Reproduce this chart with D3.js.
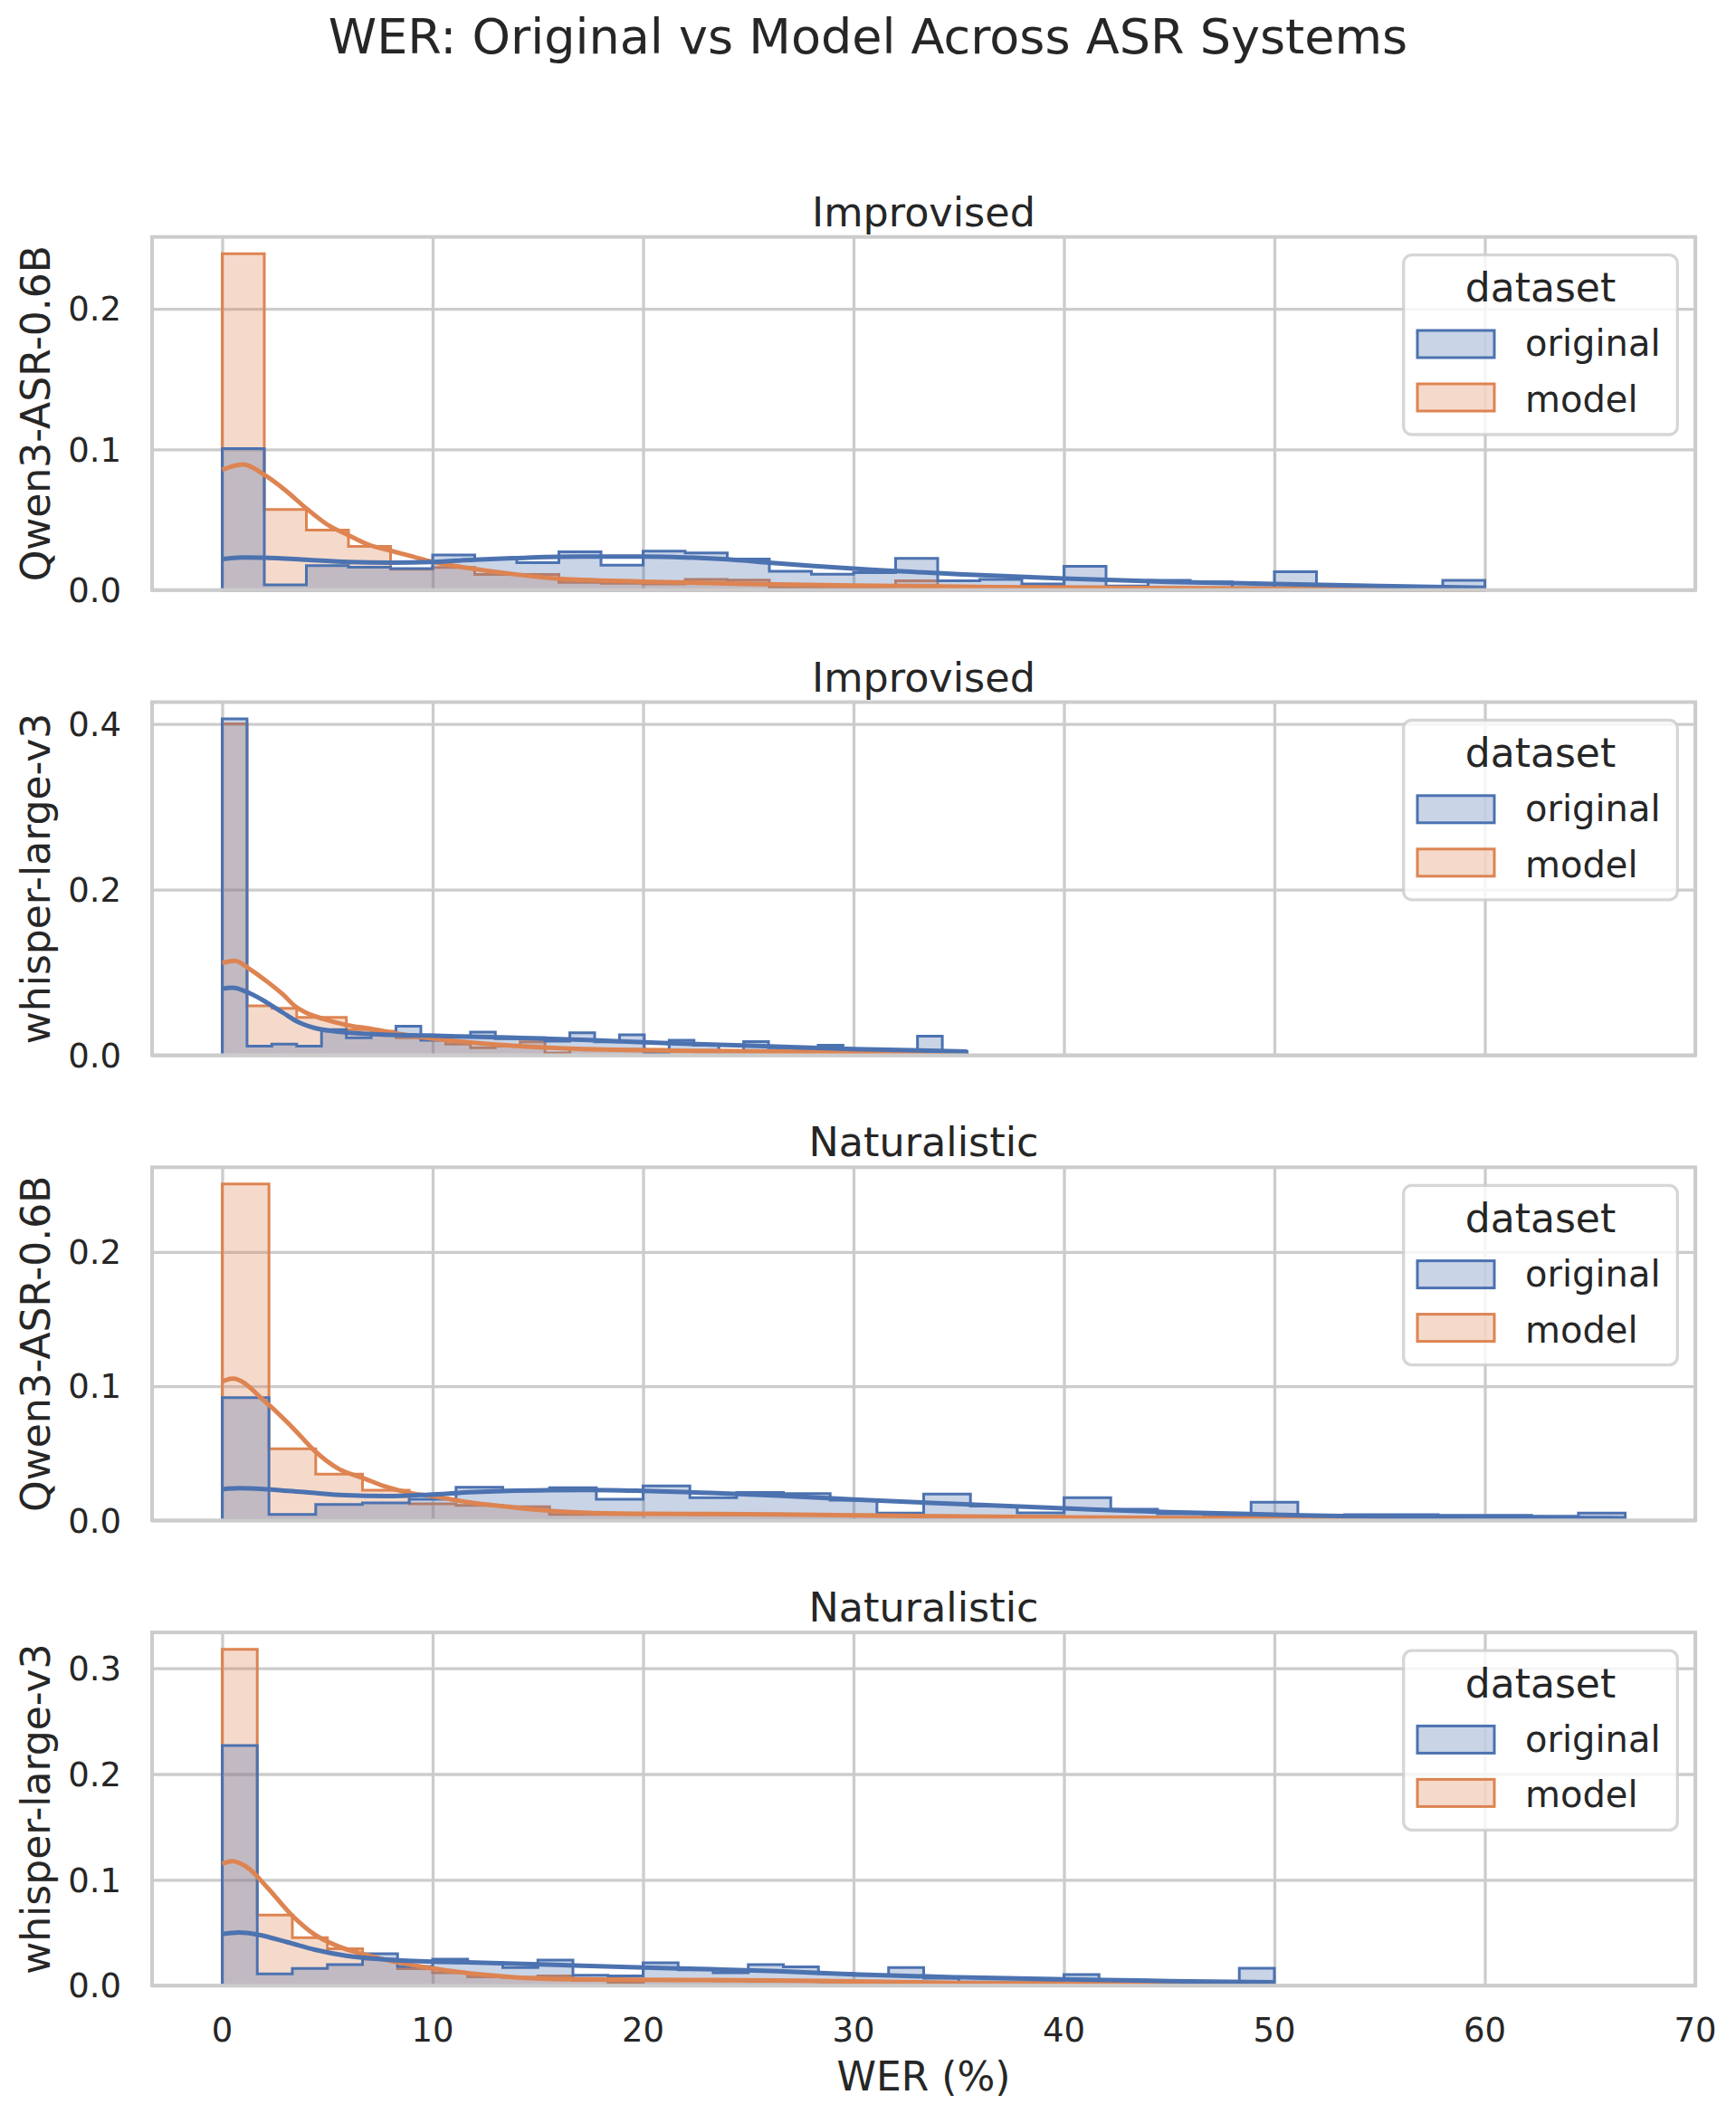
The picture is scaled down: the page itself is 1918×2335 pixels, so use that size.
<!DOCTYPE html>
<html><head><meta charset="utf-8">
<script src="https://cdn.jsdelivr.net/npm/d3@7"></script>
<style>
body{margin:0;background:#fff}
text{font-family:"DejaVu Sans",sans-serif;fill:#262626}
</style>
</head><body>
<svg id="c" width="1918" height="2335"></svg>
<script>
// ---------- DATA ----------
const suptitle = "WER: Original vs Model Across ASR Systems";
const panelTitles = ["Improvised", "Improvised", "Naturalistic", "Naturalistic"];
const panelModels = ["Qwen3-ASR-0.6B", "whisper-large-v3", "Qwen3-ASR-0.6B", "whisper-large-v3"];
const seriesNames = ["original", "model"];
const xLabel = "WER (%)";
const xTicks = [0, 10, 20, 30, 40, 50, 60, 70];
const yTicks1 = [0, 0.1, 0.2];
const yTicks2 = [0, 0.2, 0.4];
const yTicks3 = [0, 0.1, 0.2];
const yTicks4 = [0, 0.1, 0.2, 0.3];
// upper edge of the 30 equal-width bins per panel (lower edge is 0)
const binMax = [60, 35.4, 66.67, 50];

// density per bin (30 bins)
const origQwenImpro = [0.1006,0.0037,0.0173,0.0162,0.0152,0.0249,0.0221,0.0195,0.0271,0.0177,0.0277,0.0264,0.0221,0.0134,0.0113,0.0123,0.0225,0.0065,0.0076,0.0043,0.0169,0.0028,0.0069,0.0058,0.0017,0.013,0.0017,0.0017,0.001,0.0069];
const modelQwenImpro = [0.2392,0.0573,0.0426,0.031,0.0148,0.016,0.011,0.011,0.0054,0.0048,0.0043,0.0076,0.007,0.002,0.0017,0.0017,0.0065,0.0025,0.002,0.003,0.0022,0.002,0.0015,0.0015,0.0012,0.001,0.0008,0.0008,0.0006,0.0006];
const origWhisperImpro = [0.406,0.011,0.0135,0.011,0.031,0.021,0.026,0.035,0.018,0.022,0.028,0.020,0.021,0.017,0.027,0.016,0.0245,0.0026,0.018,0.012,0.004,0.0164,0.009,0.008,0.012,0.007,0.006,0.006,0.023,0.0045];
const modelWhisperImpro = [0.400,0.0595,0.0566,0.0456,0.0456,0.031,0.029,0.021,0.019,0.0135,0.009,0.011,0.016,0.0026,0.008,0.007,0.007,0.007,0.0048,0.0037,0.0048,0.004,0.003,0.003,0.0025,0.0025,0.002,0.002,0.0015,0.0015];
const origQwenNat = [0.0915,0.0045,0.0119,0.013,0.0157,0.0247,0.0225,0.0243,0.0157,0.0256,0.0169,0.0207,0.020,0.015,0.0054,0.0196,0.0106,0.0056,0.0169,0.0083,0.0049,0.0031,0.0135,0.0022,0.0043,0.0043,0.0038,0.0038,0.0031,0.0054];
const modelQwenNat = [0.2506,0.0533,0.0344,0.0225,0.0124,0.0112,0.0101,0.0045,0.0045,0.005,0.0045,0.0045,0.004,0.004,0.0035,0.003,0.003,0.003,0.0025,0.0025,0.002,0.002,0.002,0.0015,0.001,0.001,0.0005,0.0005,0.0005,0.0005];
const origWhisperNat = [0.227,0.0111,0.0162,0.0197,0.030,0.018,0.025,0.022,0.017,0.024,0.0097,0.009,0.0214,0.0148,0.012,0.0197,0.0177,0.0114,0.0097,0.0171,0.007,0.0035,0.0035,0.0045,0.0103,0.0034,0.0026,0.002,0.002,0.0163];
const modelWhisperNat = [0.318,0.0667,0.0453,0.0348,0.025,0.016,0.012,0.0083,0.0077,0.009,0.0048,0.0026,0.0054,0.005,0.0045,0.004,0.004,0.0035,0.003,0.003,0.003,0.0025,0.0025,0.002,0.002,0.002,0.0015,0.0015,0.001,0.001];

// KDE curves: [WER, density]
const kdeOrigQwenImpro = [[0,0.022],[1,0.0232],[2,0.023],[4,0.0216],[6,0.020],[8,0.0195],[10,0.020],[12,0.0216],[14,0.0227],[16,0.0236],[18,0.0238],[20,0.0238],[22,0.0232],[24,0.0218],[26,0.0195],[28,0.0172],[30,0.0152],[35,0.0113],[40,0.0082],[45,0.0058],[50,0.0043],[55,0.0028],[60,0.0015]];
const kdeModelQwenImpro = [[0,0.0855],[1,0.0894],[2,0.082],[3,0.071],[4,0.058],[5,0.0465],[6,0.039],[7,0.032],[8,0.028],[9,0.024],[10,0.020],[12,0.015],[14,0.011],[16,0.008],[18,0.0068],[20,0.006],[25,0.0043],[30,0.0032],[35,0.0024],[40,0.0017],[50,0.001],[60,0.0004]];
const kdeOrigWhisperImpro = [[0,0.0803],[0.5,0.0814],[1.3,0.0748],[2.1,0.0639],[2.9,0.0511],[3.6,0.0401],[4.4,0.0328],[5.2,0.0292],[5.9,0.0274],[7.1,0.0255],[9.8,0.0237],[13.6,0.0212],[17.4,0.0182],[21.2,0.0146],[25.1,0.0115],[30,0.0075],[35.4,0.0044]];
const kdeModelWhisperImpro = [[0,0.1113],[0.6,0.1139],[1.3,0.104],[2.1,0.0895],[2.9,0.073],[3.5,0.0584],[4,0.051],[4.8,0.0438],[5.9,0.0365],[7.1,0.0318],[8.2,0.0266],[9.8,0.0208],[11.7,0.0157],[15.5,0.0091],[19.3,0.0062],[25.1,0.0047],[30,0.0035],[35.4,0.002]];
const kdeOrigQwenNat = [[0,0.0232],[0.8,0.024],[2.1,0.0232],[4,0.0209],[5.9,0.0187],[7.8,0.018],[9.8,0.0191],[11.7,0.0209],[13.6,0.022],[15.5,0.0225],[17.4,0.0227],[20,0.022],[23.2,0.0204],[26.4,0.0185],[30,0.0155],[35,0.0121],[40,0.009],[45,0.0061],[50,0.0043],[55,0.0027],[60,0.0022],[65,0.0018],[66.67,0.0016]];
const kdeModelQwenNat = [[0,0.1034],[0.5,0.1056],[2.1,0.0876],[3.45,0.0674],[4.4,0.0517],[5.55,0.0382],[6.7,0.0315],[7.85,0.0247],[9,0.0202],[10,0.018],[11.7,0.0135],[13.6,0.0101],[15.5,0.0072],[17.4,0.0056],[20,0.0049],[26.4,0.0045],[30,0.0038],[40,0.0022],[50,0.0013],[55,0.001]];
const kdeOrigWhisperNat = [[0,0.0487],[0.8,0.0501],[1.7,0.0481],[3.1,0.041],[4.4,0.0339],[5.9,0.0282],[7.85,0.0245],[10,0.0225],[11.7,0.0219],[15.5,0.0197],[19.3,0.0174],[23.2,0.0154],[26.4,0.0135],[30,0.0105],[35,0.0078],[40,0.0059],[45,0.0042],[50,0.003]];
const kdeModelWhisperNat = [[0,0.1151],[0.5,0.1177],[1.15,0.1123],[2.1,0.0937],[3.3,0.0667],[4.4,0.0481],[5.55,0.0368],[6.7,0.0296],[7.85,0.0239],[9.8,0.0168],[11.7,0.0117],[13.6,0.0083],[15.5,0.0063],[20,0.0054],[26.4,0.0048],[30,0.004],[35,0.0025],[40,0.0018],[50,0.0011]];

// ---------- assemble ----------
const panels = [
  {orig: origQwenImpro, model: modelQwenImpro, kOrig: kdeOrigQwenImpro, kModel: kdeModelQwenImpro, yt: yTicks1},
  {orig: origWhisperImpro, model: modelWhisperImpro, kOrig: kdeOrigWhisperImpro, kModel: kdeModelWhisperImpro, yt: yTicks2},
  {orig: origQwenNat, model: modelQwenNat, kOrig: kdeOrigQwenNat, kModel: kdeModelQwenNat, yt: yTicks3},
  {orig: origWhisperNat, model: modelWhisperNat, kOrig: kdeOrigWhisperNat, kModel: kdeModelWhisperNat, yt: yTicks4}
];

const BLUE = "#4c72b0", ORANGE = "#dd8452", GRID = "#cccccc", INK = "#262626";
const X0 = 168, X1 = 1873, PH = 390, TOP0 = 261.7, STEP = 513.8;
const svg = d3.select("#c");
svg.append("rect").attr("width", 1918).attr("height", 2335).attr("fill", "#fff");

const x = d3.scaleLinear().domain([-3.333, 70]).range([X0, X1]);

svg.append("text").attr("x", 959).attr("y", 59).attr("text-anchor", "middle")
  .style("font-size", "54px").text(suptitle);

panels.forEach((p, i) => {
  const top = TOP0 + i * STEP, bot = top + PH;
  const ymax = d3.max([...p.orig, ...p.model]) * 1.05;
  const y = d3.scaleLinear().domain([0, ymax]).range([bot, top]);
  const g = svg.append("g");

  // grid
  const gx = d3.axisBottom(x).tickValues(xTicks).tickSize(-(PH)).tickFormat("");
  const gridX = g.append("g").attr("transform", `translate(0,${bot})`).call(gx);
  const gy = d3.axisLeft(y).tickValues(p.yt).tickSize(-(X1 - X0)).tickFormat("");
  const gridY = g.append("g").attr("transform", `translate(${X0},0)`).call(gy);
  [gridX, gridY].forEach(s => {
    s.select(".domain").remove();
    s.selectAll("line").attr("stroke", GRID).attr("stroke-width", 3.3);
  });

  // histograms (step, filled): model first, original on top
  const n = p.orig.length, w = binMax[i] / n;
  const pts = arr => arr.map((h, k) => [k * w, h]).concat([[binMax[i], arr[n - 1]]]);
  const area = d3.area().x(d => x(d[0])).y0(y(0)).y1(d => y(d[1])).curve(d3.curveStepAfter);
  [[p.model, ORANGE], [p.orig, BLUE]].forEach(([arr, c]) => {
    g.append("path").attr("d", area(pts(arr)))
      .attr("fill", c).attr("fill-opacity", 0.3)
      .attr("stroke", c).attr("stroke-width", 3).attr("stroke-linejoin", "miter");
  });

  // KDE lines
  const line = d3.line().x(d => x(d[0])).y(d => y(d[1])).curve(d3.curveMonotoneX);
  [[p.kModel, ORANGE], [p.kOrig, BLUE]].forEach(([arr, c]) => {
    g.append("path").attr("d", line(arr)).attr("fill", "none")
      .attr("stroke", c).attr("stroke-width", 5).attr("stroke-linecap", "butt");
  });

  // frame
  g.append("rect").attr("x", X0).attr("y", top).attr("width", X1 - X0).attr("height", PH)
    .attr("fill", "none").attr("stroke", GRID).attr("stroke-width", 4);

  // y tick labels
  g.selectAll(".yl").data(p.yt).join("text")
    .attr("x", 134).attr("y", d => y(d)).attr("dy", "0.36em")
    .attr("text-anchor", "end").style("font-size", "37px")
    .text(d => d3.format(".1f")(d));

  // y label
  g.append("text").attr("transform", `translate(55,${(top + bot) / 2}) rotate(-90)`)
    .attr("text-anchor", "middle").style("font-size", "44px").text(panelModels[i]);

  // panel title
  g.append("text").attr("x", (X0 + X1) / 2).attr("y", top - 12).attr("text-anchor", "middle")
    .style("font-size", "44.5px").text(panelTitles[i]);

  // legend
  const L = g.append("g").attr("transform", `translate(1550.7,${top + 20})`);
  L.append("rect").attr("width", 302.6).attr("height", 198.3).attr("rx", 9).attr("ry", 9)
    .attr("fill", "#fff").attr("fill-opacity", 0.8)
    .attr("stroke", GRID).attr("stroke-opacity", 0.8).attr("stroke-width", 3.3);
  L.append("text").attr("x", 151.3).attr("y", 51.6).attr("text-anchor", "middle")
    .style("font-size", "44px").text("dataset");
  [[BLUE, 83.3, 111.6], [ORANGE, 142.3, 173.3]].forEach(([c, sy, ty], k) => {
    L.append("rect").attr("x", 15.3).attr("y", sy).attr("width", 85).attr("height", 30)
      .attr("fill", c).attr("fill-opacity", 0.3).attr("stroke", c).attr("stroke-width", 3);
    L.append("text").attr("x", 134.3).attr("y", ty).style("font-size", "40px").text(seriesNames[k]);
  });

  // x tick labels only on last panel
  if (i === panels.length - 1) {
    g.selectAll(".xl").data(xTicks).join("text")
      .attr("x", d => x(d)).attr("y", 2255).attr("text-anchor", "middle")
      .style("font-size", "37px").text(d => d);
    g.append("text").attr("x", (X0 + X1) / 2).attr("y", 2309).attr("text-anchor", "middle")
      .style("font-size", "44px").text(xLabel);
  }
});
</script>
</body></html>
